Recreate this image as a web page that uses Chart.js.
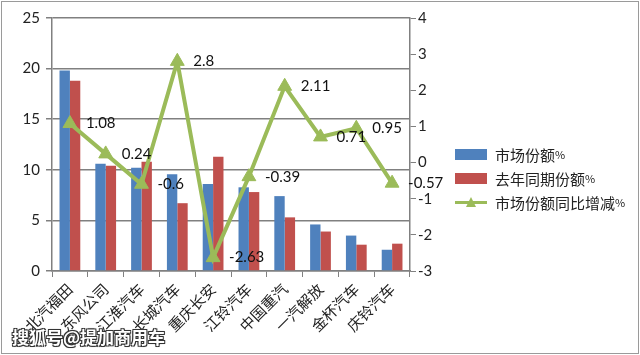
<!DOCTYPE html>
<html>
<head>
<meta charset="utf-8">
<script src="https://cdn.jsdelivr.net/npm/chart.js@4.4.1/dist/chart.umd.min.js"></script>
<style>
html,body{margin:0;padding:0;background:#fff;}
#wrap{position:relative;width:640px;height:355px;overflow:hidden;}
canvas{position:absolute;left:0;top:0;}
#frame{position:absolute;left:1px;top:1px;width:636px;height:351px;border:1px solid #9a9a9a;pointer-events:none;}
#legend{position:absolute;left:455px;top:142px;font-family:"Noto Sans CJK SC",sans-serif;font-size:15px;color:#222;}
.item{height:24px;display:flex;align-items:center;}
.sw{display:inline-block;width:32px;height:11px;margin-right:8px;}
.ln{position:relative;display:inline-block;width:32px;height:11px;margin-right:8px;}
.ln .bar{position:absolute;left:0;top:4px;width:32px;height:3px;background:#9BBB59;}
.ln .tri{position:absolute;left:11px;top:0px;width:0;height:0;border-left:5px solid transparent;border-right:5px solid transparent;border-bottom:10px solid #9BBB59;}
.pct{font-size:11px;}
#wm{position:absolute;left:12px;top:324px;font-family:"Noto Sans CJK SC",sans-serif;font-weight:bold;font-size:17px;color:#fff;
text-shadow:-1px -1px 0 #333,1px -1px 0 #333,-1px 1px 0 #333,1px 1px 0 #333,0 0 2px #333;}
</style>
</head>
<body>
<div id="wrap">
<canvas id="c" width="640" height="355"></canvas>
<div id="legend">
  <div class="item"><span class="sw" style="background:#4F81BD"></span>市场份额<span class="pct">%</span></div>
  <div class="item"><span class="sw" style="background:#C0504D"></span>去年同期份额<span class="pct">%</span></div>
  <div class="item"><span class="ln"><span class="bar"></span><span class="tri"></span></span>市场份额同比增减<span class="pct">%</span></div>
</div>
<div id="frame"></div>
<div id="wm">搜狐号@提加商用车</div>
</div>
<script>
const categories = ["北汽福田","东风公司","江淮汽车","长城汽车","重庆长安","江铃汽车","中国重汽","一汽解放","金杯汽车","庆铃汽车"];
const shareNow = [19.8, 10.6, 10.2, 9.55, 8.6, 8.27, 7.4, 4.6, 3.5, 2.1];
const shareLastYear = [18.8, 10.4, 10.8, 6.7, 11.3, 7.8, 5.3, 3.9, 2.6, 2.7];
const shareChange = [1.08, 0.24, -0.6, 2.8, -2.63, -0.39, 2.11, 0.71, 0.95, -0.57];
const leftTicks = [0, 5, 10, 15, 20, 25];
const rightTicks = [-3, -2, -1, 0, 1, 2, 3, 4];

const labelPlugin = {
  id: 'lineLabels',
  afterDatasetsDraw(chart) {
    const ctx = chart.ctx;
    const meta = chart.getDatasetMeta(2);
    ctx.save();
    ctx.font = '15px Lato, "Liberation Sans", sans-serif';
    ctx.fillStyle = '#111';
    ctx.textAlign = 'left';
    ctx.textBaseline = 'middle';
    meta.data.forEach((pt, i) => {
      ctx.fillText(String(shareChange[i]), pt.x + 16, pt.y);
    });
    ctx.restore();
  }
};

const tickFont = {family: 'Lato, "Liberation Sans", sans-serif', size: 15};
new Chart(document.getElementById('c'), {
  type: 'bar',
  data: {
    labels: categories,
    datasets: [
      {label: '市场份额%', data: shareNow, backgroundColor: '#4F81BD', yAxisID: 'y', order: 1,
       categoryPercentage: 0.58, barPercentage: 1.0},
      {label: '去年同期份额%', data: shareLastYear, backgroundColor: '#C0504D', yAxisID: 'y', order: 1,
       categoryPercentage: 0.58, barPercentage: 1.0},
      {type: 'line', label: '市场份额同比增减%', data: shareChange, yAxisID: 'y2', order: 0,
       borderColor: '#9BBB59', backgroundColor: '#9BBB59', borderWidth: 4, tension: 0,
       pointStyle: 'triangle', pointRadius: 8, pointBackgroundColor: '#9BBB59', pointBorderColor: '#9BBB59', pointBorderWidth: 1}
    ]
  },
  options: {
    responsive: false,
    animation: false,
    layout: {padding: {left: 0, right: 200, top: 18, bottom: 0}},
    plugins: {legend: {display: false}, tooltip: {enabled: false}},
    scales: {
      x: {
        grid: {drawOnChartArea: false, drawTicks: true, tickLength: 6, color: '#808080', offset: true},
        border: {color: '#808080', width: 1.5},
        ticks: {font: {family: '"Noto Sans CJK SC", sans-serif', size: 15}, color: '#222', maxRotation: 45, minRotation: 45, padding: 3},
        afterFit(s) { s.height = 84; }
      },
      y: {
        position: 'left', min: 0, max: 25,
        afterBuildTicks(s) { s.ticks = leftTicks.map(v => ({value: v})); },
        grid: {color: '#808080', lineWidth: 1.5, tickLength: 6},
        border: {color: '#808080', width: 1.5},
        ticks: {font: tickFont, color: '#222', padding: 6},
        afterFit(s) { s.width = 52; }
      },
      y2: {
        position: 'right', min: -3, max: 4,
        afterBuildTicks(s) { s.ticks = rightTicks.map(v => ({value: v})); },
        grid: {drawOnChartArea: false, color: '#808080', tickLength: 6},
        border: {color: '#808080', width: 1.5},
        ticks: {font: tickFont, color: '#222', padding: 2},
        afterFit(s) { s.width = 30; }
      }
    }
  },
  plugins: [labelPlugin]
});
</script>
</body>
</html>
